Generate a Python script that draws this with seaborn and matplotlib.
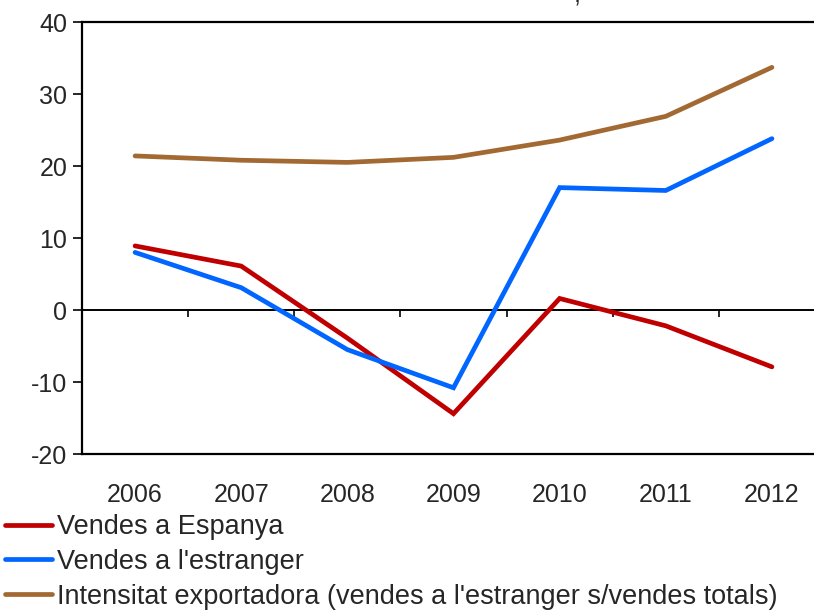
import matplotlib
matplotlib.use("Agg")
import matplotlib.pyplot as plt
import seaborn as sns
import pandas as pd
from matplotlib.lines import Line2D

years = ["2006", "2007", "2008", "2009", "2010", "2011", "2012"]
vendes_espanya = [8.9, 6.1, -3.9, -14.4, 1.6, -2.2, -7.9]
vendes_estranger = [8.0, 3.1, -5.5, -10.8, 17.0, 16.6, 23.8]
intensitat = [21.4, 20.8, 20.5, 21.2, 23.6, 26.9, 33.7]
series_names = ["Vendes a Espanya", "Vendes a l'estranger",
                "Intensitat exportadora (vendes a l'estranger s/vendes totals)"]
colors = ["#C00000", "#0066FF", "#A26A32"]

rows = []
for name, vals in zip(series_names, [vendes_espanya, vendes_estranger, intensitat]):
    for i, (y, v) in enumerate(zip(years, vals)):
        rows.append({"idx": i, "year": y, "value": v, "serie": name})
df = pd.DataFrame(rows)

sns.set_style("white")
plt.rcParams['font.family'] = ['Liberation Sans', 'DejaVu Sans']

W, H = 814, 610
fig = plt.figure(figsize=(W / 100, H / 100), dpi=100)
left, right, top, bottom = 82, 825, 22, 454
ax = fig.add_axes([left / W, (H - bottom) / H, (right - left) / W, (bottom - top) / H])

sns.lineplot(data=df, x="idx", y="value", hue="serie", hue_order=series_names,
             palette=colors, linewidth=3.4, ax=ax, legend=False, sort=False)
for l in ax.lines:
    l.set_solid_capstyle("round")
    l.set_solid_joinstyle("miter")

ax.set_xlim(-0.5, 6.5)
ax.set_ylim(-20, 40)
ax.set_yticks([-20, -10, 0, 10, 20, 30, 40])
ax.set_yticklabels(["-20", "-10", "0", "10", "20", "30", "40"])
ax.set_xticks(range(len(years)))
ax.set_xticklabels(years)
ax.set_xlabel("")
ax.set_ylabel("")
ax.tick_params(axis="x", length=0, pad=21, labelsize=18)
ax.tick_params(axis="y", direction="out", length=6.5, width=1.4, pad=4, labelsize=18, left=True)

for s in ["left", "top", "bottom"]:
    ax.spines[s].set_visible(True)
    ax.spines[s].set_color("black")
    ax.spines[s].set_linewidth(1.6)
ax.spines["right"].set_visible(False)

# zero line with category boundary ticks
sec = ax.secondary_xaxis(20 / 60)
sec.set_xticks([i + 0.5 for i in range(len(years) - 1)])
sec.set_xticklabels([])
sec.tick_params(axis="x", direction="out", length=5, width=1.4)
sec.spines["bottom"].set_linewidth(1.4)
sec.spines["bottom"].set_color("black")

# cut-off title remnant
fig.text(577 / W, 1 - 2 / H, ",", fontsize=18, ha="center", va="baseline")

handles = [Line2D([0], [0], color=c, lw=3.4, solid_capstyle="round") for c in colors]
fig.legend(handles, series_names, loc="upper left",
           bbox_to_anchor=(5 / W, 1 - 514 / H), frameon=False, fontsize=19.5,
           handlelength=1.75, handletextpad=0.18, labelspacing=0.33,
           borderaxespad=0, borderpad=0)

fig.savefig("out.png", dpi=100)
